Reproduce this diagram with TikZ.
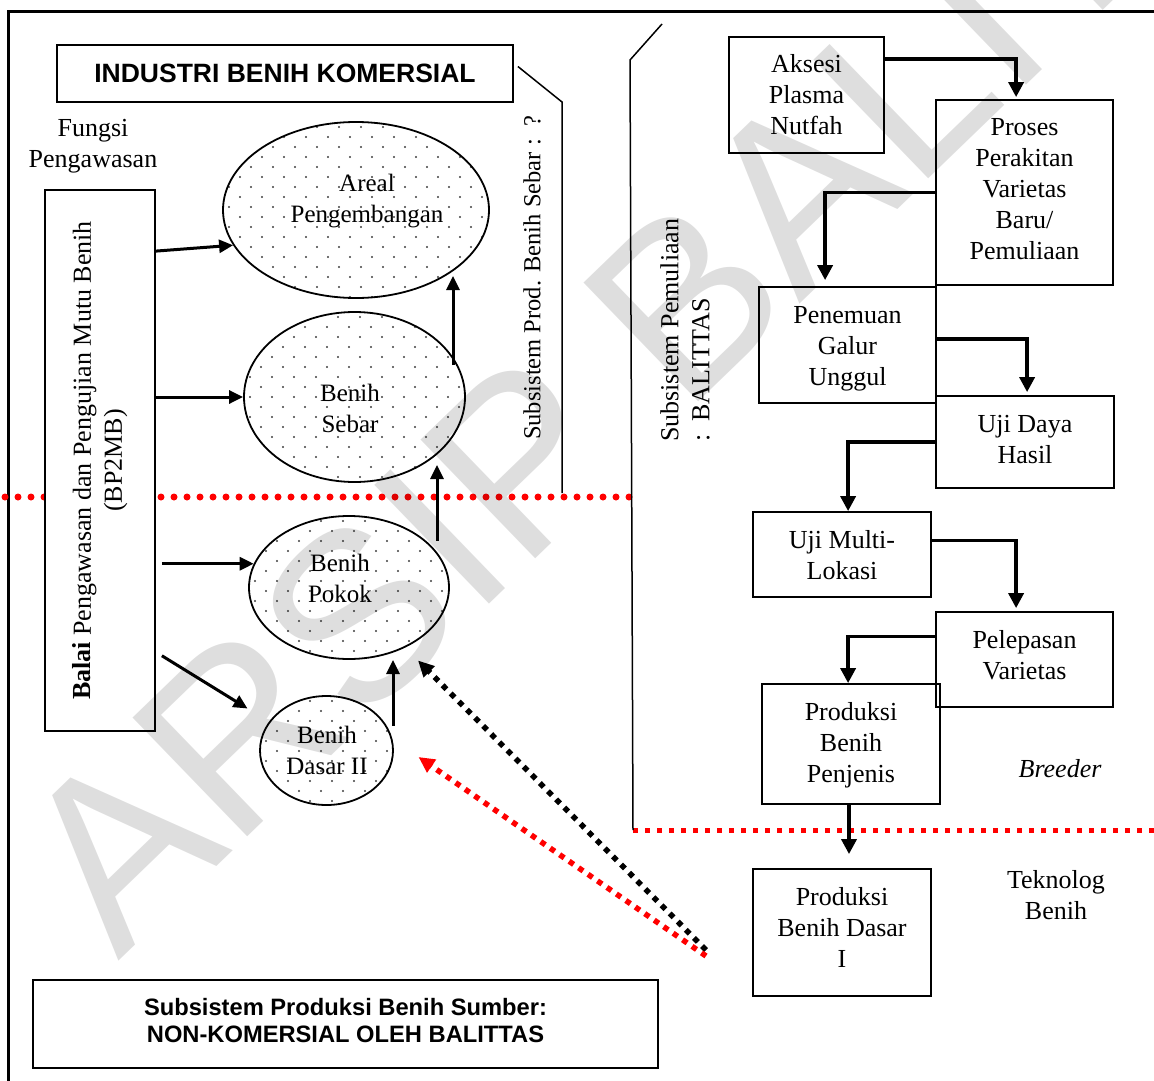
\documentclass[tikz,border=0pt]{standalone}
\usepackage{fontspec}
\setmainfont{Liberation Serif}
\newfontfamily\hdrfont{Liberation Sans}
\usetikzlibrary{arrows.meta,calc,shapes.geometric}
\begin{document}
\begin{tikzpicture}[x=1pt,y=-1pt,
  txt/.style={font=\fontsize{26}{31}\selectfont, align=center, inner sep=0pt},
  etxt/.style={font=\fontsize{25}{31}\selectfont, align=center, inner sep=0pt},
  boxn/.style={draw, line width=1.8pt, rectangle, inner sep=0pt},
  hdr/.style={draw, line width=1.8pt, rectangle, inner sep=0pt, align=center},
  dotfill/.style={path picture={
     \foreach \i in {0,...,13}{\foreach \j in {0,...,18}{
       \fill[black!75] ($(path picture bounding box.north west)+({\i*22+mod(\j,2)*11+6},{\j*10+5})$) circle (1.1pt);}}}},
  seed/.style={draw, ellipse, line width=1.8pt, inner sep=0pt, dotfill},
  arr/.style={line width=3pt, -{Triangle[length=14pt,width=13pt]}},
  elb/.style={line width=3.6pt, -{Triangle[length=15pt,width=15pt]}},
  thinln/.style={line width=1.5pt},
  reddots/.style={red, line width=7pt, line cap=round, dash pattern=on 0pt off 13pt},
  redsq/.style={red, line width=5pt, dash pattern=on 5pt off 7pt},
  blkdia/.style={black, line width=5.5pt, dash pattern=on 5.5pt off 6pt, -{Triangle[length=16pt,width=15pt]}},
  reddia/.style={red, line width=5.5pt, dash pattern=on 5.5pt off 6pt, -{Triangle[length=16pt,width=15pt]}},
]
\useasboundingbox[fill=white] (0,0) rectangle (1154,1081);

% outer frame
\draw[line width=3pt] (8,1081) -- (8,12) -- (1154,12);

% dotted separators
\draw[reddots] (5,497) -- (630,497);
\draw[redsq] (633,830) -- (1154,830);

% headers
\node[hdr, minimum width=456pt, minimum height=57pt, font=\hdrfont\bfseries\fontsize{26.5}{30}\selectfont] (ind) at (285,73.5) {INDUSTRI BENIH KOMERSIAL};
\node[hdr, minimum width=625pt, minimum height=88pt, font=\hdrfont\bfseries\fontsize{23.7}{27}\selectfont, text depth=8pt] (sub) at (345.5,1024) {Subsistem Produksi Benih Sumber:\\NON-KOMERSIAL OLEH BALITTAS};

% brackets
\draw[thinln] ($(ind.east)+(4,-7)$) -- (562,102) -- (562,493);
\draw[thinln] (662,24) -- (630,60) -- (633,830);

% left labels
\node[txt] (fun) at (93,146.5) {Fungsi\\Pengawasan};
\node[boxn, fill=white, minimum width=110pt, minimum height=541pt] (bp) at (100,460.5) {};
\node[txt, rotate=90] (bpt) at (bp.center) {\textbf{Balai} Pengawasan dan Pengujian Mutu Benih\\(BP2MB)};
\node[txt, rotate=90, font=\fontsize{24.5}{31}\selectfont] (sps) at (532,278) {Subsistem Prod. Benih Sebar :\enspace ?};
\node[txt, rotate=90, anchor=west, align=left] (spm) at (685,442) {Subsistem Pemuliaan\\:\ \ BALITTAS};

% seed ellipses
\node[seed, minimum width=266pt, minimum height=176pt] (are) at (356,210) {};
\node[seed, minimum width=221pt, minimum height=170pt] (ses) at (354.5,397) {};
\node[seed, minimum width=200pt, minimum height=143pt] (pok) at (349,587.5) {};
\node[seed, minimum width=133pt, minimum height=109pt] (das) at (326.5,750.5) {};
\node[etxt] (areT) at (367,201) {Areal\\Pengembangan};
\node[etxt] (sesT) at (350,408.5) {Benih\\Sebar};
\node[etxt] (pokT) at (340,578) {Benih\\Pokok};
\node[etxt] (dasT) at (327,750.5) {Benih\\Dasar II};

% right boxes
\node[boxn, minimum width=155pt, minimum height=116pt] (aks) at (806.5,95) {};
\node[boxn, minimum width=177pt, minimum height=185pt] (pro) at (1024.5,192.5) {};
\node[boxn, minimum width=177pt, minimum height=116pt] (pen) at (847.5,345) {};
\node[boxn, minimum width=178pt, minimum height=92pt] (ujd) at (1025,442) {};
\node[boxn, minimum width=178pt, minimum height=85pt] (ujm) at (842,554.5) {};
\node[boxn, minimum width=177pt, minimum height=95pt] (pel) at (1024.5,659.5) {};
\node[boxn, minimum width=178pt, minimum height=120pt] (pbp) at (851,744) {};
\node[boxn, minimum width=178pt, minimum height=127pt] (pbd) at (842,932.5) {};
\node[txt] (aksT) at (806.5,95) {Aksesi\\Plasma\\Nutfah};
\node[txt] (proT) at (1024.5,189.5) {Proses\\Perakitan\\Varietas\\Baru/\\Pemuliaan};
\node[txt] (penT) at (847.5,349) {Penemuan\\Galur\\Unggul};
\node[txt] (ujdT) at (1025,440) {Uji Daya\\Hasil};
\node[txt] (ujmT) at (842,555.5) {Uji Multi-\\Lokasi};
\node[txt] (pelT) at (1024.5,655.5) {Pelepasan\\Varietas};
\node[txt] (pbpT) at (851,745) {Produksi\\Benih\\Penjenis};
\node[txt] (pbdT) at (842,927.5) {Produksi\\Benih Dasar\\I};

\node[txt, font=\fontsize{26}{31}\selectfont\itshape] (bre) at (1060,769) {Breeder};
\node[txt] (tek) at (1056,895) {Teknolog\\Benih};

% left arrows
\draw[arr] ($(bp.north east)+(0,62)$) -- (are.196);
\draw[arr] (bp.east |- ses.west) -- (ses.west);
\draw[arr] ($(bp.east |- pok.166)+(6,0)$) -- (pok.166);
\draw[arr] ($(bp.east |- pok.166)+(6,92)$) -- ($(das.center)+(-79,-42)$);
\draw[arr] ($(ses.center)+(98.5,-32)$) -- ($(are.center)+(97,66)$);
\draw[arr] ($(pok.center)+(88,-47)$) -- ($(ses.center)+(82.5,68)$);
\draw[arr] ($(das.center)+(66.5,-25)$) -- ($(pok.center)+(44,72.5)$);

% dotted arrows from Produksi Benih Dasar I
\coordinate (srcb) at (706,950);
\coordinate (srcr) at (706,956);
\draw[blkdia] (srcb) -- ($(pok.center)+(69,73)$);
\draw[reddia] (srcr) -- ($(das.center)+(92,6.5)$);

% right flow arrows
\draw[elb] ($(aks.north east)+(0,23)$) -| ($(pro.north west)+(81,-2)$);
\draw[elb] (pro.west) -| ($(pen.north west)+(67,-6)$);
\draw[elb] ($(pen.east)+(0,-6)$) -| ($(ujd.north west)+(92,-3)$);
\draw[elb] (ujd.west) -| ($(ujm.north west)+(96,0)$);
\draw[elb] ($(ujm.east)+(0,-14)$) -| ($(pel.north west)+(81,-3)$);
\draw[elb] ($(pel.west)+(0,-23)$) -| ($(pbp.north west)+(87,0)$);
\draw[elb] ($(pbp.south)+(-2,0)$) -- ($(pbd.north)+(7,-14)$);

% watermark
\node[font=\hdrfont\fontsize{240}{240}\selectfont, text=black, text opacity=0.13, rotate=44, anchor=base west, inner sep=0pt] (wm) at (118,962) {ARSIP BALITTAS};
\end{tikzpicture}
\end{document}
